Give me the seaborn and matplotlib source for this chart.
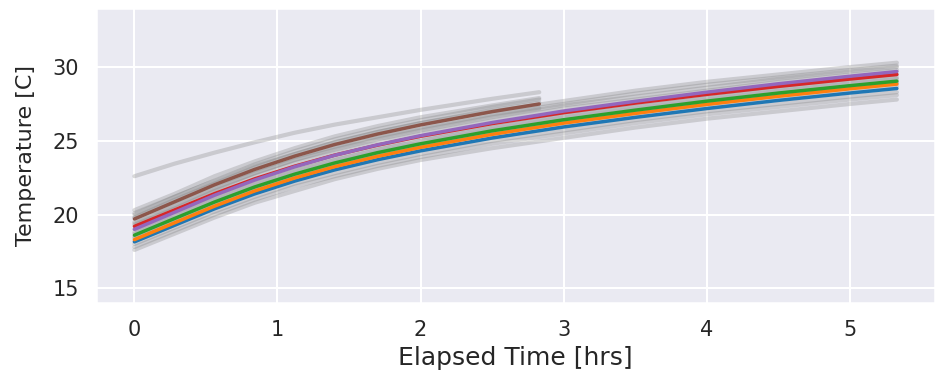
import matplotlib
matplotlib.use("Agg")
import matplotlib.pyplot as plt
import seaborn as sns

# time grid (hrs) for the full runs and for the runs that stopped early
time_full = [0, 0.28, 0.56, 0.84, 1.12, 1.4, 1.7, 2.0, 2.5, 3.0, 3.5, 4.0, 4.5, 5.0, 5.33]
time_short = [0, 0.28, 0.56, 0.84, 1.12, 1.4, 1.7, 2.0, 2.5, 2.83]

# background runs (gray), full length
gray_full = [
    [17.6, 18.7, 19.8, 20.8, 21.6, 22.4, 23.1, 23.7, 24.5, 25.2, 25.9, 26.5, 27.0, 27.5, 27.8],
    [17.8, 18.9, 20.0, 21.0, 21.9, 22.6, 23.3, 23.9, 24.8, 25.5, 26.2, 26.8, 27.3, 27.8, 28.1],
    [18.0, 19.1, 20.2, 21.2, 22.1, 22.8, 23.5, 24.1, 25.0, 25.7, 26.4, 27.0, 27.5, 28.0, 28.3],
    [18.2, 19.3, 20.5, 21.5, 22.4, 23.1, 23.8, 24.4, 25.3, 26.1, 26.7, 27.3, 27.9, 28.4, 28.7],
    [18.4, 19.5, 20.7, 21.7, 22.6, 23.3, 24.0, 24.6, 25.5, 26.3, 26.9, 27.5, 28.1, 28.6, 28.9],
    [18.5, 19.6, 20.8, 21.8, 22.7, 23.4, 24.1, 24.7, 25.6, 26.4, 27.0, 27.6, 28.2, 28.7, 29.0],
    [18.7, 19.8, 21.0, 22.0, 22.9, 23.6, 24.3, 24.9, 25.8, 26.6, 27.2, 27.8, 28.4, 28.9, 29.2],
    [18.8, 19.9, 21.1, 22.1, 23.0, 23.7, 24.4, 25.0, 25.9, 26.7, 27.3, 27.9, 28.5, 29.0, 29.3],
    [19.0, 20.1, 21.3, 22.3, 23.2, 23.9, 24.6, 25.2, 26.1, 26.9, 27.5, 28.1, 28.7, 29.2, 29.5],
    [19.3, 20.4, 21.6, 22.6, 23.5, 24.2, 24.9, 25.5, 26.4, 27.2, 27.8, 28.4, 29.0, 29.5, 29.8],
    [19.5, 20.6, 21.8, 22.8, 23.7, 24.4, 25.1, 25.7, 26.6, 27.4, 28.0, 28.6, 29.2, 29.7, 30.0],
    [19.8, 20.9, 22.0, 23.0, 23.9, 24.6, 25.3, 25.9, 26.8, 27.5, 28.2, 28.8, 29.3, 29.8, 30.1],
    [20.1, 21.2, 22.3, 23.3, 24.1, 24.9, 25.6, 26.2, 27.0, 27.7, 28.4, 29.0, 29.5, 30.0, 30.3],
]

# background runs (gray), stopped at ~2.8 hrs
gray_short = [
    [19.4, 20.6, 21.7, 22.8, 23.7, 24.5, 25.2, 25.8, 26.7, 27.2],
    [19.8, 21.0, 22.1, 23.2, 24.1, 24.9, 25.6, 26.2, 27.1, 27.6],
    [20.0, 21.2, 22.3, 23.4, 24.3, 25.1, 25.8, 26.4, 27.3, 27.8],
    [20.3, 21.4, 22.6, 23.6, 24.5, 25.3, 26.0, 26.6, 27.4, 27.9],
    [22.6, 23.45, 24.2, 24.9, 25.55, 26.1, 26.6, 27.1, 27.85, 28.3],
]

# highlighted runs
blue = [18.15, 19.27, 20.39, 21.40, 22.27, 23.03, 23.72, 24.32, 25.19, 25.94, 26.59, 27.19, 27.74, 28.24, 28.55]
orange = [18.3, 19.44, 20.57, 21.6, 22.48, 23.25, 23.95, 24.56, 25.44, 26.2, 26.86, 27.47, 28.02, 28.53, 28.85]
green = [18.6, 19.73, 20.85, 21.87, 22.74, 23.5, 24.2, 24.8, 25.68, 26.43, 27.08, 27.69, 28.24, 28.74, 29.05]
red = [19.2, 20.31, 21.42, 22.42, 23.28, 24.03, 24.71, 25.31, 26.17, 26.91, 27.56, 28.15, 28.69, 29.19, 29.5]
purple = [19.0, 20.15, 21.31, 22.34, 23.24, 24.02, 24.73, 25.35, 26.24, 27.02, 27.68, 28.3, 28.87, 29.38, 29.7]
brown = [19.7, 20.86, 22.02, 23.06, 23.96, 24.75, 25.46, 26.08, 26.98, 27.5]

sns.set_theme(style="darkgrid", context="talk")
plt.rcParams['font.family'] = ['DejaVu Sans']

fig, ax = plt.subplots(figsize=(9.35, 3.7), dpi=100)
fig.subplots_adjust(left=0.103, right=1.0, top=0.978, bottom=0.181)

for run in gray_full:
    sns.lineplot(x=time_full, y=run, ax=ax, color='gray', alpha=0.3, lw=3,
                 estimator=None, sort=False)
for run in gray_short:
    sns.lineplot(x=time_short, y=run, ax=ax, color='gray', alpha=0.3, lw=3,
                 estimator=None, sort=False)

highlight = [(blue, time_full, 'tab:blue'), (orange, time_full, 'tab:orange'),
             (green, time_full, 'tab:green'), (red, time_full, 'tab:red'),
             (purple, time_full, 'tab:purple'), (brown, time_short, 'tab:brown')]
for run, t, c in highlight:
    sns.lineplot(x=t, y=run, ax=ax, color=c, lw=2.5, estimator=None, sort=False)

ax.set_ylim(14, 34)
ax.set_yticks([15, 20, 25, 30])
ax.set_xticks([0, 1, 2, 3, 4, 5])
ax.tick_params(labelsize=15)
ax.set_xlabel('Elapsed Time [hrs]', fontsize=18, labelpad=4)
ax.set_ylabel('Temperature [C]', fontsize=16, labelpad=12)

plt.savefig('out.png', dpi=100)
plt.close()
